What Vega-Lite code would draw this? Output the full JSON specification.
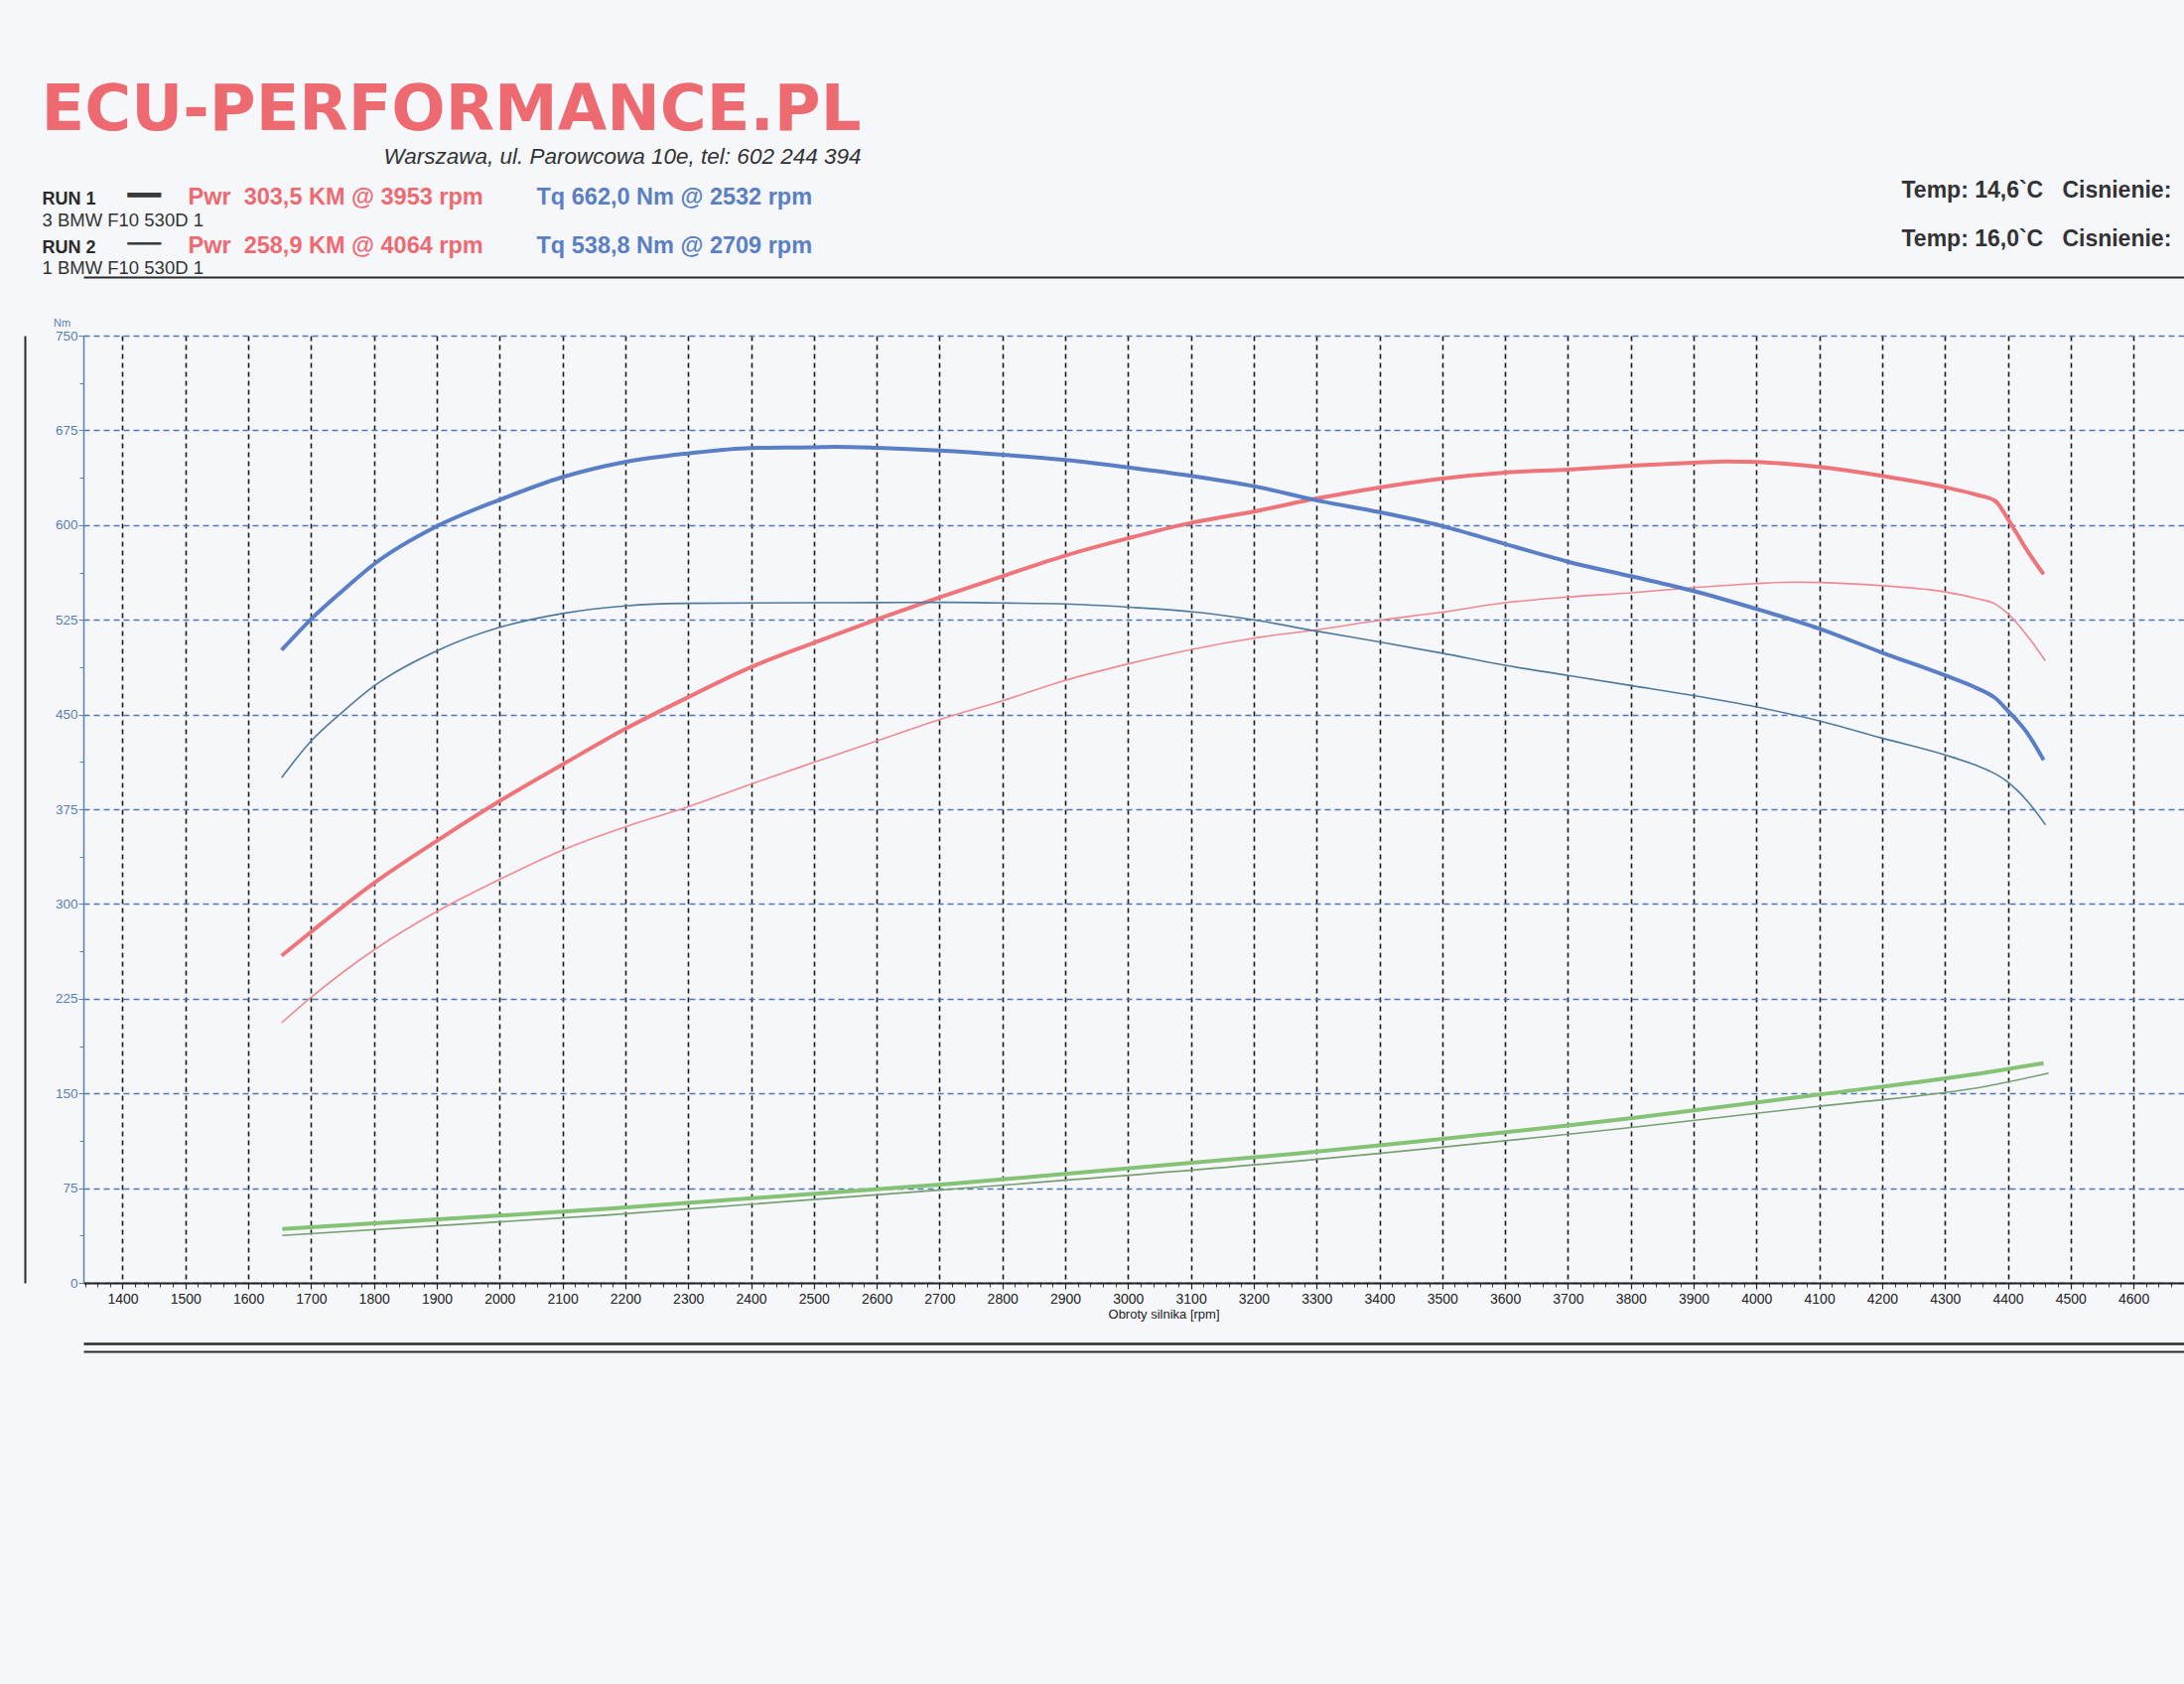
{
  "$schema": "https://vega.github.io/schema/vega-lite/v6.json",
  "width": 2116,
  "height": 954,
  "autosize": {"type": "none"},
  "padding": {"left": 84, "top": 338, "right": 0, "bottom": 404},
  "background": "#f5f7fb",
  "config": {
    "view": {"stroke": null},
    "font": "Liberation Sans",
    "axis": {"labelFont": "Liberation Sans", "titleFont": "Liberation Sans", "labelFlush": false}
  },
  "datasets": {
    "torque": [
      {"run":"RUN 1","rpm":1653,"nm":501},{"run":"RUN 1","rpm":1700,"nm":525.5},{"run":"RUN 1","rpm":1750,"nm":548},{"run":"RUN 1","rpm":1800,"nm":569},{"run":"RUN 1","rpm":1900,"nm":599},{"run":"RUN 1","rpm":2000,"nm":620},{"run":"RUN 1","rpm":2100,"nm":638},{"run":"RUN 1","rpm":2200,"nm":650},{"run":"RUN 1","rpm":2300,"nm":656.7},{"run":"RUN 1","rpm":2400,"nm":661},{"run":"RUN 1","rpm":2500,"nm":661.6},{"run":"RUN 1","rpm":2532,"nm":662},{"run":"RUN 1","rpm":2600,"nm":661.2},{"run":"RUN 1","rpm":2700,"nm":659},{"run":"RUN 1","rpm":2800,"nm":655.7},{"run":"RUN 1","rpm":2900,"nm":651.5},{"run":"RUN 1","rpm":3000,"nm":645.7},{"run":"RUN 1","rpm":3100,"nm":639},{"run":"RUN 1","rpm":3200,"nm":630.8},{"run":"RUN 1","rpm":3300,"nm":619.6},{"run":"RUN 1","rpm":3400,"nm":610.2},{"run":"RUN 1","rpm":3500,"nm":599.2},{"run":"RUN 1","rpm":3600,"nm":585},{"run":"RUN 1","rpm":3700,"nm":571},{"run":"RUN 1","rpm":3800,"nm":559.5},{"run":"RUN 1","rpm":3900,"nm":547.8},{"run":"RUN 1","rpm":4000,"nm":533.6},{"run":"RUN 1","rpm":4100,"nm":518},{"run":"RUN 1","rpm":4200,"nm":499},{"run":"RUN 1","rpm":4300,"nm":481},{"run":"RUN 1","rpm":4350,"nm":471},{"run":"RUN 1","rpm":4380,"nm":463},{"run":"RUN 1","rpm":4400,"nm":453},{"run":"RUN 1","rpm":4430,"nm":436},{"run":"RUN 1","rpm":4457,"nm":414},
      {"run":"RUN 2","rpm":1653,"nm":400},{"run":"RUN 2","rpm":1700,"nm":429},{"run":"RUN 2","rpm":1750,"nm":452},{"run":"RUN 2","rpm":1800,"nm":472.5},{"run":"RUN 2","rpm":1900,"nm":500.4},{"run":"RUN 2","rpm":2000,"nm":519},{"run":"RUN 2","rpm":2100,"nm":530},{"run":"RUN 2","rpm":2200,"nm":536},{"run":"RUN 2","rpm":2300,"nm":538},{"run":"RUN 2","rpm":2400,"nm":538.3},{"run":"RUN 2","rpm":2500,"nm":538.5},{"run":"RUN 2","rpm":2600,"nm":538.6},{"run":"RUN 2","rpm":2709,"nm":538.8},{"run":"RUN 2","rpm":2800,"nm":538.3},{"run":"RUN 2","rpm":2900,"nm":537.5},{"run":"RUN 2","rpm":3000,"nm":535},{"run":"RUN 2","rpm":3100,"nm":531.5},{"run":"RUN 2","rpm":3200,"nm":525},{"run":"RUN 2","rpm":3300,"nm":516},{"run":"RUN 2","rpm":3400,"nm":507.5},{"run":"RUN 2","rpm":3500,"nm":498.5},{"run":"RUN 2","rpm":3600,"nm":489},{"run":"RUN 2","rpm":3700,"nm":481},{"run":"RUN 2","rpm":3800,"nm":473},{"run":"RUN 2","rpm":3900,"nm":465},{"run":"RUN 2","rpm":4000,"nm":456},{"run":"RUN 2","rpm":4100,"nm":445},{"run":"RUN 2","rpm":4200,"nm":431.3},{"run":"RUN 2","rpm":4300,"nm":418},{"run":"RUN 2","rpm":4350,"nm":409.7},{"run":"RUN 2","rpm":4380,"nm":403},{"run":"RUN 2","rpm":4400,"nm":396.6},{"run":"RUN 2","rpm":4430,"nm":382},{"run":"RUN 2","rpm":4460,"nm":362.7}
    ],
    "power": [
      {"run":"RUN 1","rpm":1653,"km":120.9},{"run":"RUN 1","rpm":1700,"km":129.7},{"run":"RUN 1","rpm":1800,"km":147.7},{"run":"RUN 1","rpm":1900,"km":163.3},{"run":"RUN 1","rpm":2000,"km":178.0},{"run":"RUN 1","rpm":2100,"km":191.5},{"run":"RUN 1","rpm":2200,"km":204.7},{"run":"RUN 1","rpm":2300,"km":216.4},{"run":"RUN 1","rpm":2400,"km":227.5},{"run":"RUN 1","rpm":2500,"km":236.5},{"run":"RUN 1","rpm":2600,"km":245.1},{"run":"RUN 1","rpm":2700,"km":253.3},{"run":"RUN 1","rpm":2800,"km":261.1},{"run":"RUN 1","rpm":2900,"km":268.7},{"run":"RUN 1","rpm":3000,"km":275.1},{"run":"RUN 1","rpm":3100,"km":280.8},{"run":"RUN 1","rpm":3200,"km":285.0},{"run":"RUN 1","rpm":3300,"km":289.8},{"run":"RUN 1","rpm":3400,"km":293.9},{"run":"RUN 1","rpm":3500,"km":297.2},{"run":"RUN 1","rpm":3600,"km":299.4},{"run":"RUN 1","rpm":3700,"km":300.5},{"run":"RUN 1","rpm":3800,"km":301.9},{"run":"RUN 1","rpm":3900,"km":303.0},{"run":"RUN 1","rpm":3953,"km":303.5},{"run":"RUN 1","rpm":4000,"km":303.3},{"run":"RUN 1","rpm":4100,"km":301.5},{"run":"RUN 1","rpm":4200,"km":298.2},{"run":"RUN 1","rpm":4300,"km":294.0},{"run":"RUN 1","rpm":4350,"km":291.2},{"run":"RUN 1","rpm":4380,"km":288.9},{"run":"RUN 1","rpm":4400,"km":282.3},{"run":"RUN 1","rpm":4430,"km":270.9},{"run":"RUN 1","rpm":4457,"km":261.8},
      {"run":"RUN 2","rpm":1653,"km":96.1},{"run":"RUN 2","rpm":1700,"km":105.5},{"run":"RUN 2","rpm":1800,"km":123.0},{"run":"RUN 2","rpm":1900,"km":137.2},{"run":"RUN 2","rpm":2000,"km":149.1},{"run":"RUN 2","rpm":2100,"km":159.9},{"run":"RUN 2","rpm":2200,"km":168.5},{"run":"RUN 2","rpm":2300,"km":175.9},{"run":"RUN 2","rpm":2400,"km":184.3},{"run":"RUN 2","rpm":2500,"km":192.3},{"run":"RUN 2","rpm":2600,"km":200.2},{"run":"RUN 2","rpm":2700,"km":208.1},{"run":"RUN 2","rpm":2800,"km":215.1},{"run":"RUN 2","rpm":2900,"km":222.6},{"run":"RUN 2","rpm":3000,"km":228.7},{"run":"RUN 2","rpm":3100,"km":234.0},{"run":"RUN 2","rpm":3200,"km":238.2},{"run":"RUN 2","rpm":3300,"km":241.3},{"run":"RUN 2","rpm":3400,"km":244.8},{"run":"RUN 2","rpm":3500,"km":247.8},{"run":"RUN 2","rpm":3600,"km":251.3},{"run":"RUN 2","rpm":3700,"km":253.4},{"run":"RUN 2","rpm":3800,"km":255.0},{"run":"RUN 2","rpm":3900,"km":256.9},{"run":"RUN 2","rpm":4000,"km":258.4},{"run":"RUN 2","rpm":4064,"km":258.9},{"run":"RUN 2","rpm":4100,"km":258.8},{"run":"RUN 2","rpm":4200,"km":257.6},{"run":"RUN 2","rpm":4300,"km":255.3},{"run":"RUN 2","rpm":4350,"km":252.9},{"run":"RUN 2","rpm":4380,"km":250.8},{"run":"RUN 2","rpm":4400,"km":247.3},{"run":"RUN 2","rpm":4430,"km":239.4},{"run":"RUN 2","rpm":4460,"km":229.8}
    ],
    "losses": [
      {"run":"RUN 1","rpm":1654,"km":19.9},{"run":"RUN 1","rpm":2168,"km":27.3},{"run":"RUN 1","rpm":2718,"km":36.6},{"run":"RUN 1","rpm":3269,"km":47.8},{"run":"RUN 1","rpm":3819,"km":61.4},{"run":"RUN 1","rpm":4094,"km":69.4},{"run":"RUN 1","rpm":4370,"km":77.9},{"run":"RUN 1","rpm":4457,"km":81.2},
      {"run":"RUN 2","rpm":1654,"km":17.5},{"run":"RUN 2","rpm":2168,"km":25.0},{"run":"RUN 2","rpm":2718,"km":34.6},{"run":"RUN 2","rpm":3269,"km":45.0},{"run":"RUN 2","rpm":3819,"km":57.9},{"run":"RUN 2","rpm":4094,"km":65.1},{"run":"RUN 2","rpm":4370,"km":72.8},{"run":"RUN 2","rpm":4465,"km":77.5}
    ]
  },
  "layer": [
    {
      "data": {"name": "losses"},
      "transform": [{"filter": "datum.run === 'RUN 2'"}],
      "mark": {"type": "line", "color": "#789f70", "strokeWidth": 1.6, "interpolate": "monotone"},
      "encoding": {
        "x": {"field": "rpm", "type": "quantitative", "scale": {"domain": [1337.6, 4680.4], "nice": false, "zero": false}, "axis": null},
        "y": {"field": "km", "type": "quantitative", "scale": {"domain": [0, 350], "nice": false}, "axis": null}
      }
    },
    {
      "data": {"name": "losses"},
      "transform": [{"filter": "datum.run === 'RUN 1'"}],
      "mark": {"type": "line", "color": "#84c274", "strokeWidth": 4, "interpolate": "monotone"},
      "encoding": {
        "x": {"field": "rpm", "type": "quantitative", "scale": {"domain": [1337.6, 4680.4], "nice": false, "zero": false},
          "axis": {"orient": "bottom", "offset": 69, "domain": true, "domainColor": "#2a2a2a", "domainWidth": 2, "ticks": false, "labels": false, "grid": false,
            "title": ["Temp: 14,6`C\u00a0\u00a0\u00a0Cisnienie:", "Temp: 16,0`C\u00a0\u00a0\u00a0Cisnienie:"],
            "titleX": 1831, "titleY": -1163, "titleAlign": "left", "titleBaseline": "alphabetic", "titleAngle": 0,
            "titleFontSize": 23, "titleFontWeight": "bold", "titleColor": "#333333", "titleLineHeight": 49}},
        "y": {"field": "km", "type": "quantitative", "scale": {"domain": [0, 350], "nice": false},
          "axis": {"orient": "left", "domain": false, "ticks": false, "labels": false, "grid": false,
            "title": ["\u2501\u2501", "\u2500\u2500"], "titleFont": "DejaVu Sans", "titleFontSize": 28, "titleFontWeight": "normal",
            "titleColor": "#3a3a3a", "titleX": 44, "titleY": -133, "titleAlign": "left", "titleBaseline": "alphabetic", "titleAngle": 0, "titleLineHeight": 49}}
      }
    },
    {
      "data": {"name": "power"},
      "transform": [{"filter": "datum.run === 'RUN 2'"}],
      "mark": {"type": "line", "color": "#f08a90", "strokeWidth": 1.6, "interpolate": "monotone"},
      "encoding": {
        "x": {"field": "rpm", "type": "quantitative", "scale": {"domain": [1337.6, 4680.4], "nice": false, "zero": false},
          "axis": {"orient": "bottom", "offset": 61, "domain": true, "domainColor": "#2a2a2a", "domainWidth": 2.5, "ticks": false, "labels": false, "grid": false,
            "title": ["Pwr\u00a0\u00a0303,5 KM @ 3953 rpm", "Pwr\u00a0\u00a0258,9 KM @ 4064 rpm"],
            "titleX": 105, "titleY": -1148, "titleAlign": "left", "titleBaseline": "alphabetic", "titleAngle": 0,
            "titleFontSize": 23.5, "titleFontWeight": "bold", "titleColor": "#ee6a70", "titleLineHeight": 49}},
        "y": {"field": "km", "type": "quantitative", "scale": {"domain": [0, 350], "nice": false},
          "axis": {"orient": "left", "offset": 59, "domain": true, "domainColor": "#2a2a2a", "domainWidth": 2, "ticks": false, "labels": false, "grid": false,
            "title": ["Tq 662,0 Nm @ 2532 rpm", "Tq 538,8 Nm @ 2709 rpm"],
            "titleX": 515, "titleY": -133, "titleAlign": "left", "titleBaseline": "alphabetic", "titleAngle": 0,
            "titleFontSize": 23.5, "titleFontWeight": "bold", "titleColor": "#5b7fc2", "titleLineHeight": 49}}
      }
    },
    {
      "data": {"name": "power"},
      "transform": [{"filter": "datum.run === 'RUN 1'"}],
      "mark": {"type": "line", "color": "#ef7479", "strokeWidth": 4, "interpolate": "monotone"},
      "encoding": {
        "x": {"field": "rpm", "type": "quantitative", "scale": {"domain": [1337.6, 4680.4], "nice": false, "zero": false},
          "axis": {"orient": "top", "offset": 59, "domain": true, "domainColor": "#2a2a2a", "domainWidth": 2, "ticks": false, "labels": false, "grid": false,
            "title": ["RUN 1", "RUN 2"],
            "titleX": -42, "titleY": -74, "titleAlign": "left", "titleBaseline": "alphabetic", "titleAngle": 0,
            "titleFontSize": 18, "titleFontWeight": "bold", "titleColor": "#2a2a2a", "titleLineHeight": 49}},
        "y": {"field": "km", "type": "quantitative", "scale": {"domain": [0, 350], "nice": false},
          "axis": {"orient": "left", "domain": false, "ticks": false, "labels": false, "grid": false,
            "title": ["3 BMW F10 530D 1", "1 BMW F10 530D 1"],
            "titleX": -42, "titleY": -111, "titleAlign": "left", "titleBaseline": "alphabetic", "titleAngle": 0,
            "titleFontSize": 18.5, "titleFontWeight": "normal", "titleColor": "#333333", "titleLineHeight": 48}}
      }
    },
    {
      "data": {"name": "torque"},
      "transform": [{"filter": "datum.run === 'RUN 2'"}],
      "mark": {"type": "line", "color": "#4e7a9e", "strokeWidth": 1.6, "interpolate": "monotone"},
      "encoding": {
        "x": {"field": "rpm", "type": "quantitative", "scale": {"domain": [1337.6, 4680.4], "nice": false, "zero": false},
          "axis": {"orient": "bottom", "tickCount": 170, "labels": false, "grid": false, "domain": false, "ticks": true, "tickSize": 4, "tickColor": "#333333", "tickWidth": 1,
            "title": "ECU-PERFORMANCE.PL", "titleFont": "DejaVu Sans", "titleFontSize": 64, "titleFontWeight": "bold", "titleColor": "#ec6a70",
            "titleX": 783, "titleY": -1162, "titleAlign": "right", "titleBaseline": "alphabetic", "titleAngle": 0}},
        "y": {"field": "nm", "type": "quantitative", "scale": {"domain": [0, 750], "nice": false},
          "axis": {"orient": "left", "values": [37.5, 112.5, 187.5, 262.5, 337.5, 412.5, 487.5, 562.5, 637.5, 712.5], "labels": false, "grid": false, "domain": false, "tickSize": 4, "tickColor": "#5a7fb0",
            "title": "Warszawa, ul. Parowcowa 10e, tel: 602 244 394", "titleFontStyle": "italic", "titleFontWeight": "normal", "titleFontSize": 22.5, "titleColor": "#333333",
            "titleX": 783, "titleY": -174, "titleAlign": "right", "titleBaseline": "alphabetic", "titleAngle": 0}}
      }
    },
    {
      "data": {"name": "torque"},
      "transform": [{"filter": "datum.run === 'RUN 1'"}],
      "mark": {"type": "line", "color": "#5a7ec6", "strokeWidth": 4, "interpolate": "monotone"},
      "encoding": {
        "x": {"field": "rpm", "type": "quantitative", "scale": {"domain": [1337.6, 4680.4], "nice": false, "zero": false},
          "axis": {"orient": "bottom", "values": [1400,1500,1600,1700,1800,1900,2000,2100,2200,2300,2400,2500,2600,2700,2800,2900,3000,3100,3200,3300,3400,3500,3600,3700,3800,3900,4000,4100,4200,4300,4400,4500,4600],
            "format": "d", "grid": true, "gridColor": "#1a1a1a", "gridDash": [5, 4], "gridWidth": 1.6,
            "domainColor": "#222222", "domainWidth": 2, "tickColor": "#222222", "tickSize": 6, "tickWidth": 1.2,
            "labelFontSize": 14, "labelColor": "#222222", "labelPadding": 3,
            "title": "Obroty silnika [rpm]", "titleFontSize": 13, "titleFontWeight": "normal", "titleColor": "#222222",
            "titleX": 1088, "titleY": 35, "titleAlign": "center", "titleBaseline": "alphabetic"}},
        "y": {"field": "nm", "type": "quantitative", "scale": {"domain": [0, 750], "nice": false},
          "axis": {"orient": "left", "values": [0, 75, 150, 225, 300, 375, 450, 525, 600, 675, 750],
            "grid": true, "gridColor": "#4f78b0", "gridDash": [6, 4], "gridWidth": 1.5,
            "domainColor": "#5a7fb0", "domainWidth": 1.5, "tickColor": "#5a7fb0", "tickSize": 5,
            "labelColor": "#5a7fb0", "labelFontSize": 13.5, "labelPadding": 1,
            "title": "Nm", "titleAngle": 0, "titleX": -22, "titleY": -10, "titleAlign": "center", "titleBaseline": "alphabetic",
            "titleFontSize": 11, "titleFontWeight": "normal", "titleColor": "#5a7fb0"}}
      }
    }
  ],
  "resolve": {"scale": {"x": "independent", "y": "independent"}, "axis": {"x": "independent", "y": "independent"}}
}
